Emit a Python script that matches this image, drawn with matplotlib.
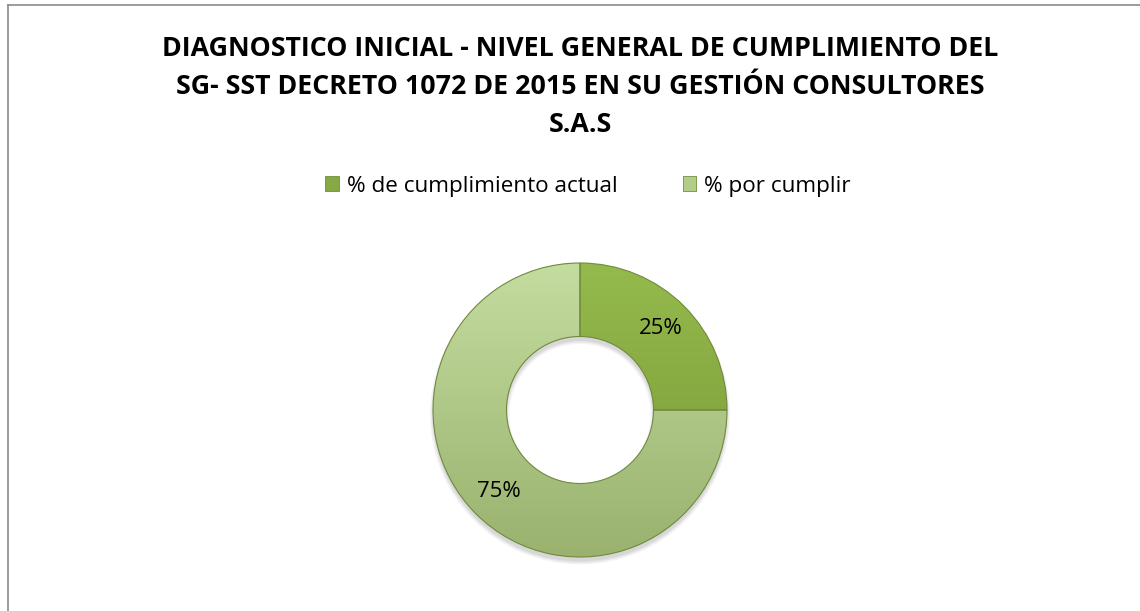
import numpy as np
import matplotlib.pyplot as plt
from matplotlib.lines import Line2D
from matplotlib.colors import LinearSegmentedColormap

# Data
title = ("DIAGNOSTICO INICIAL - NIVEL GENERAL DE CUMPLIMIENTO DEL\n"
         "SG- SST DECRETO 1072 DE 2015 EN SU GESTIÓN CONSULTORES\n"
         "S.A.S")
categories = ["% de cumplimiento actual", "% por cumplir"]
values = [25, 75]
colors = ["#86a845", "#b2cc8a"]
# gradient (top, bottom) per slice, to mimic the bevel look
gradients = [("#95ba4c", "#769735"), ("#c4dc9f", "#9ab26e")]

W, H = 1140, 611
fig = plt.figure(figsize=(W / 100, H / 100), dpi=100)
plt.rcParams['font.family'] = ['Open Sans', 'DejaVu Sans']

# chart border (top and left visible)
fig.add_artist(Line2D([7.5 / W, 7.5 / W], [0, 1 - 5 / H], color="#8a8a8a", lw=1.2,
                      transform=fig.transFigure))
fig.add_artist(Line2D([7.5 / W, 1], [1 - 5 / H, 1 - 5 / H], color="#8a8a8a", lw=1.2,
                      transform=fig.transFigure))

# title
fig.text(580 / W, 1 - 87 / H, title, ha="center", va="center", fontsize=19.3,
         fontweight="bold", linespacing=1.6)

# donut axes: center (580, 410), outer radius ~147 px
cx, cy, r = 580, 410, 147
size = 2 * r * 1.02
ax = fig.add_axes([(cx - size / 2) / W, 1 - (cy + size / 2) / H, size / W, size / H])

# soft shadow beneath
for k, a in enumerate([0.35, 0.5, 0.7]):
    ax.pie([1], radius=1.0 + 0.01 * (2 - k), colors=["#bdbdbd"], center=(0.0, -0.03),
           wedgeprops=dict(width=0.5 + 0.02 * (2 - k), edgecolor="none", alpha=a * 0.5))
wedges, texts, autotexts = ax.pie(values, colors=colors, startangle=90, counterclock=False,
                                  autopct="%1.0f%%", pctdistance=0.78,
                                  wedgeprops=dict(width=0.5, edgecolor="#6f8a3e", linewidth=0.8),
                                  textprops=dict(fontsize=16, color="black"))
grad = np.linspace(0, 1, 256).reshape(-1, 1)
for w, (top, bot) in zip(wedges, gradients):
    cmap = LinearSegmentedColormap.from_list("g", [top, bot])
    im = ax.imshow(grad, cmap=cmap, extent=(-1, 1, -1, 1), origin="upper",
                   aspect="auto", zorder=w.get_zorder() + 0.1)
    im.set_clip_path(w)
    w.set_facecolor("none")
    w.set_zorder(w.get_zorder() + 0.2)
for t in autotexts:
    t.set_zorder(5)
ax.set_xlim(-1.02, 1.02)
ax.set_ylim(-1.02, 1.02)
ax.set_aspect("equal")
ax.axis("off")

# legend
handles = [plt.Rectangle((0, 0), 1, 1, facecolor=c, edgecolor="#6f8f3a", lw=0.6) for c in colors]
fig.legend(handles, categories, loc="center", bbox_to_anchor=(588 / W, 1 - 186 / H), ncol=2,
           frameon=False, fontsize=16.2, handlelength=0.6, handleheight=0.6,
           handletextpad=0.35, columnspacing=2.9)

fig.savefig("out.png", dpi=100, facecolor="white")
